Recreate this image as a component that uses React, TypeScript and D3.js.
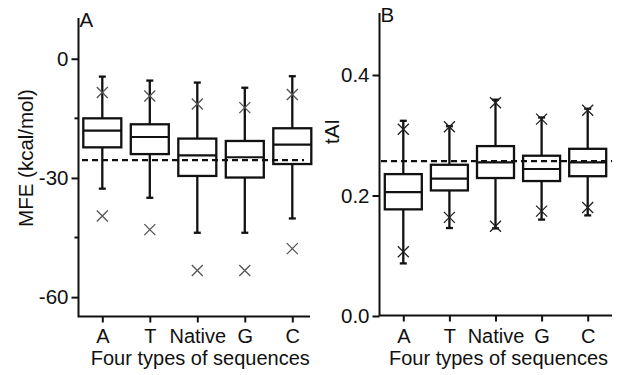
import React, { useEffect, useRef } from 'react';
import * as d3 from 'd3';

const categories = ['A', 'T', 'Native', 'G', 'C'];

// MFE (kcal/mol) box summaries per sequence type
const mfeWhiskerHigh = [-4.5, -5.5, -6.0, -7.3, -4.4];
const mfeQ3 = [-15.0, -16.5, -20.1, -20.7, -17.5];
const mfeMedian = [-18.1, -19.7, -24.3, -24.8, -21.6];
const mfeQ1 = [-22.3, -24.0, -29.5, -29.9, -26.5];
const mfeWhiskerLow = [-32.7, -35.0, -43.8, -43.8, -40.2];
const mfeMarkHigh = [-8.5, -9.4, -11.4, -12.3, -9.0];
const mfeMarkLow = [-39.6, -43.0, -53.3, -53.3, -47.8];
const mfeRef = -25.5;
const mfeTicks = [0, -30, -60];
const mfeMinorTicks = [-15, -45];

// tAI box summaries per sequence type
const taiWhiskerHigh = [0.324, 0.315, 0.359, 0.3295, 0.344];
const taiQ3 = [0.2355, 0.251, 0.282, 0.266, 0.2775];
const taiMedian = [0.2056, 0.228, 0.255, 0.244, 0.255];
const taiQ1 = [0.177, 0.2084, 0.229, 0.224, 0.232];
const taiWhiskerLow = [0.0873, 0.146, 0.1454, 0.16, 0.167];
const taiMarkHigh = [0.31, 0.314, 0.354, 0.3267, 0.3416];
const taiMarkLow = [0.1066, 0.1637, 0.149, 0.174, 0.18];
const taiRef = 0.257;
const taiTicks = [0.0, 0.2, 0.4];

const FONT = '"Liberation Sans", Arial, sans-serif';
const FS = 20.5;

const App = () => {
  const svgRef = useRef(null);

  useEffect(() => {
    const svg = d3.select(svgRef.current);
    svg.selectAll('*').remove();

    const drawPanel = (opts) => {
      const {
        letter, axisX, axisTop, axisRight, axisBottom, yScale, xFirst, xLast,
        ticks, minorTicks, tickFormat, yTitle, yTitleX, yTitleY,
        wHi, q3, med, q1, wLo, mHi, mLo, ref, refStart, refEnd, markColor, boxWidth
      } = opts;

      const xScale = d3.scalePoint().domain(categories).range([xFirst, xLast]);
      const g = svg.append('g');

      // y axis
      const yAxis = d3.axisLeft(yScale).tickValues(ticks).tickSize(7).tickSizeOuter(0).tickFormat(tickFormat);
      const ya = g.append('g').attr('transform', `translate(${axisX},0)`).call(yAxis);
      ya.select('.domain').remove();
      ya.selectAll('line').attr('stroke', '#111').attr('stroke-width', 2);
      ya.selectAll('text').attr('font-family', FONT).attr('font-size', FS).attr('fill', '#111').attr('x', -10);
      minorTicks.forEach(t => {
        g.append('line')
          .attr('x1', axisX - 4).attr('x2', axisX)
          .attr('y1', yScale(t)).attr('y2', yScale(t))
          .attr('stroke', '#111').attr('stroke-width', 2);
      });

      // x axis
      const xAxis = d3.axisBottom(xScale).tickSize(6).tickSizeOuter(0);
      const xa = g.append('g').attr('transform', `translate(0,${axisBottom})`).call(xAxis);
      xa.select('.domain').remove();
      xa.selectAll('line').attr('stroke', '#111').attr('stroke-width', 2);
      xa.selectAll('text').attr('font-family', FONT).attr('font-size', 20).attr('fill', '#111')
        .attr('y', 342.5 - axisBottom).attr('dy', null);

      g.append('path')
        .attr('d', `M${axisX},${axisTop}V${axisBottom}H${axisRight}`)
        .attr('fill', 'none').attr('stroke', '#111').attr('stroke-width', 2);

      // boxes
      categories.forEach((c, i) => {
        const cx = xScale(c);
        const bx = g.append('g');
        bx.append('line')
          .attr('x1', cx).attr('x2', cx).attr('y1', yScale(wHi[i])).attr('y2', yScale(q3[i]))
          .attr('stroke', '#111').attr('stroke-width', 2.3);
        bx.append('line')
          .attr('x1', cx).attr('x2', cx).attr('y1', yScale(q1[i])).attr('y2', yScale(wLo[i]))
          .attr('stroke', '#111').attr('stroke-width', 2.3);
        [wHi[i], wLo[i]].forEach(v => {
          bx.append('line')
            .attr('x1', cx - 3.5).attr('x2', cx + 3.5).attr('y1', yScale(v)).attr('y2', yScale(v))
            .attr('stroke', '#111').attr('stroke-width', 2.3);
        });
        bx.append('rect')
          .attr('x', cx - boxWidth / 2).attr('width', boxWidth)
          .attr('y', yScale(q3[i])).attr('height', yScale(q1[i]) - yScale(q3[i]))
          .attr('fill', 'white').attr('stroke', '#111').attr('stroke-width', 2.3);
        bx.append('line')
          .attr('x1', cx - boxWidth / 2).attr('x2', cx + boxWidth / 2)
          .attr('y1', yScale(med[i])).attr('y2', yScale(med[i]))
          .attr('stroke', '#111').attr('stroke-width', 2.2);
        [mHi[i], mLo[i]].forEach(v => {
          const y = yScale(v);
          const s = 5.5;
          bx.append('path')
            .attr('d', `M${cx - s},${y - s}L${cx + s},${y + s}M${cx - s},${y + s}L${cx + s},${y - s}`)
            .attr('stroke', markColor).attr('stroke-width', 1.3).attr('fill', 'none');
        });
      });

      // reference dashed line
      g.append('line')
        .attr('x1', refStart).attr('x2', refEnd)
        .attr('y1', yScale(ref)).attr('y2', yScale(ref))
        .attr('stroke', '#111').attr('stroke-width', 2.2).attr('stroke-dasharray', '6,4');

      // titles
      g.append('text')
        .attr('x', axisX + 1).attr('y', axisTop + 9)
        .attr('font-family', FONT).attr('font-size', FS).attr('fill', '#111')
        .text(letter);
      g.append('text')
        .attr('transform', `translate(${yTitleX},${yTitleY}) rotate(-90)`)
        .attr('text-anchor', 'middle')
        .attr('font-family', FONT).attr('font-size', FS).attr('fill', '#111')
        .text(yTitle);
      g.append('text')
        .attr('x', (xFirst + xLast) / 2 + 3).attr('y', 365)
        .attr('text-anchor', 'middle')
        .attr('font-family', FONT).attr('font-size', 20).attr('fill', '#111')
        .text('Four types of sequences');
    };

    const hyphenInt = (d) => String(d);

    drawPanel({
      letter: 'A', axisX: 78.5, axisTop: 18, axisRight: 310, axisBottom: 316.5,
      yScale: d3.scaleLinear().domain([-65, 10]).range([317, 19]),
      xFirst: 102.3, xLast: 292.3,
      ticks: mfeTicks, minorTicks: mfeMinorTicks, tickFormat: hyphenInt,
      yTitle: 'MFE (kcal/mol)', yTitleX: 33, yTitleY: 158,
      wHi: mfeWhiskerHigh, q3: mfeQ3, med: mfeMedian, q1: mfeQ1, wLo: mfeWhiskerLow,
      mHi: mfeMarkHigh, mLo: mfeMarkLow, ref: mfeRef, refStart: 82, refEnd: 304,
      markColor: '#555', boxWidth: 38
    });

    drawPanel({
      letter: 'B', axisX: 379.5, axisTop: 13, axisRight: 612, axisBottom: 315.5,
      yScale: d3.scaleLinear().domain([0, 0.5]).range([316, 14.75]),
      xFirst: 403.3, xLast: 587.7,
      ticks: taiTicks, minorTicks: [], tickFormat: d3.format('.1f'),
      yTitle: 'tAI', yTitleX: 338.5, yTitleY: 131.5,
      wHi: taiWhiskerHigh, q3: taiQ3, med: taiMedian, q1: taiQ1, wLo: taiWhiskerLow,
      mHi: taiMarkHigh, mLo: taiMarkLow, ref: taiRef, refStart: 381, refEnd: 612,
      markColor: '#222', boxWidth: 37
    });
  }, []);

  return (
    <svg
      ref={svgRef}
      width={624}
      height={375}
      style={{ position: 'absolute', left: 0, top: 0, background: 'white' }}
    />
  );
};

export default App;
